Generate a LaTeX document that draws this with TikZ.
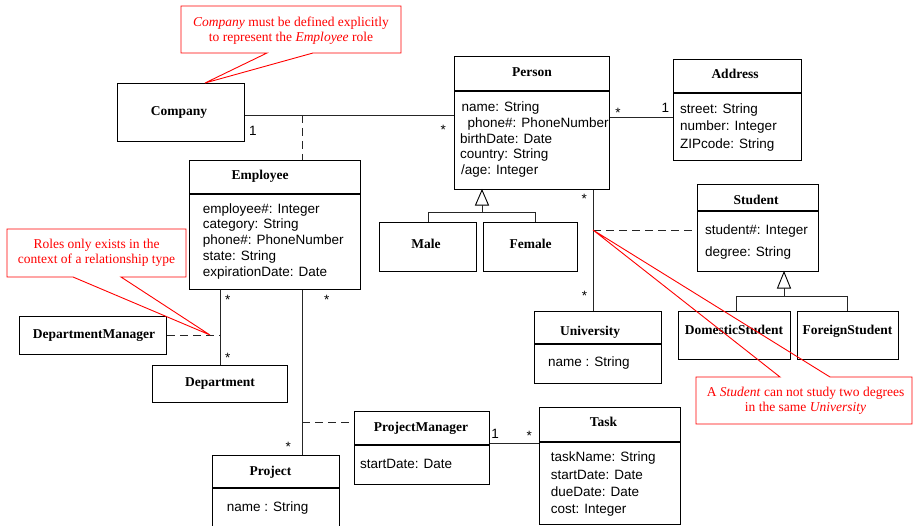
\documentclass[tikz,border=0pt]{standalone}
\usepackage{fontspec}
\usetikzlibrary{calc}
\setmainfont{Liberation Serif}
\newfontfamily\sansattr{Liberation Sans}
\begin{document}
\begin{tikzpicture}[x=1pt,y=-1pt,
  classbox/.style={draw=black, line width=1.1pt, inner sep=0pt, anchor=north west},
  sepline/.style={line width=1.1pt},
  title/.style={font=\fontsize{13.5}{16}\selectfont\bfseries, anchor=base, inner sep=0pt},
  attr/.style={font=\sansattr\fontsize{13.5}{16}\selectfont, anchor=base west, inner sep=0pt},
  mult/.style={font=\sansattr\fontsize{13.5}{16}\selectfont, anchor=base, inner sep=0pt},
  link/.style={line width=0.9pt, draw=black!85},
  dashlink/.style={link, dash pattern=on 8pt off 5pt},
  notetext/.style={text=red, font=\fontsize{13.5}{15.5}\selectfont, align=center, inner sep=0pt},
  noteline/.style={draw=red, line width=0.9pt, line join=miter},
  gentri/.style={draw=black, line width=0.9pt, fill=white},
]
\clip (0,0) rectangle (913,526);

% ---------- classes ----------
\node[classbox, minimum width=127, minimum height=58] (company) at (117,83) {};
\node[title] (company-t) at (179,116) {Company};

\node[classbox, minimum width=155, minimum height=133] (person) at (454,56) {};
\draw[sepline] (person.west |- 0,91) -- (person.east |- 0,91);
\node[title] (person-t) at (532,76.5) {Person};
\node[attr] (person-a1) at (461.5,111.7) {name: String};
\node[attr] (person-a2) at (467.5,127.3) {phone\#: PhoneNumber};
\node[attr] (person-a3) at (460,143.3) {birthDate: Date};
\node[attr] (person-a4) at (460,159) {country: String};
\node[attr] (person-a5) at (461,174.3) {/age: Integer};

\node[classbox, minimum width=128, minimum height=101] (address) at (673,59) {};
\draw[sepline] (address.west |- 0,93) -- (address.east |- 0,93);
\node[title] (address-t) at (735,79) {Address};
\node[attr] (address-a1) at (680,113.3) {street: String};
\node[attr] (address-a2) at (680,131) {number: Integer};
\node[attr] (address-a3) at (680,148.7) {ZIPcode: String};

\node[classbox, minimum width=121, minimum height=87] (student) at (697,184) {};
\draw[sepline] (student.west |- 0,211) -- (student.east |- 0,211);
\node[title] (student-t) at (756,204.3) {Student};
\node[attr] (student-a1) at (705,234.3) {student\#: Integer};
\node[attr] (student-a2) at (705,256.5) {degree: String};

\node[classbox, minimum width=171, minimum height=129] (employee) at (189,160) {};
\draw[sepline] (employee.west |- 0,194) -- (employee.east |- 0,194);
\node[title] (employee-t) at (260,180) {Employee};
\node[attr] (employee-a1) at (202.7,213.3) {employee\#: Integer};
\node[attr] (employee-a2) at (202.7,229) {category: String};
\node[attr] (employee-a3) at (202.7,245) {phone\#: PhoneNumber};
\node[attr] (employee-a4) at (202.7,260.7) {state: String};
\node[attr] (employee-a5) at (202.7,276.7) {expirationDate: Date};

\node[classbox, minimum width=97, minimum height=49] (male) at (379,222) {};
\node[title] (male-t) at (426,248.3) {Male};
\node[classbox, minimum width=94, minimum height=49] (female) at (483,222) {};
\node[title] (female-t) at (530.5,248.3) {Female};

\node[classbox, minimum width=127, minimum height=72] (university) at (534,311) {};
\draw[sepline] (university.west |- 0,344) -- (university.east |- 0,344);
\node[title] (university-t) at (590,335.7) {University};
\node[attr] (university-a1) at (548,366.7) {name : String};

\node[classbox, minimum width=112, minimum height=48] (domestic) at (678,311) {};
\node[title] (domestic-t) at (734,335) {DomesticStudent};
\node[classbox, minimum width=101, minimum height=48] (foreign) at (797,311) {};
\node[title] (foreign-t) at (847.5,335) {ForeignStudent};

\node[classbox, minimum width=147, minimum height=38] (depmanager) at (19,316) {};
\node[title] (depmanager-t) at (94,338.3) {DepartmentManager};
\node[classbox, minimum width=135, minimum height=37] (department) at (152,365) {};
\node[title] (department-t) at (220,386.7) {Department};

\node[classbox, minimum width=135, minimum height=73] (projmanager) at (354,411) {};
\draw[sepline] (projmanager.west |- 0,445) -- (projmanager.east |- 0,445);
\node[title] (projmanager-t) at (421,431.7) {ProjectManager};
\node[attr] (projmanager-a1) at (360,468.3) {startDate: Date};

\node[classbox, minimum width=127, minimum height=80] (project) at (212,455) {};
\draw[sepline] (project.west |- 0,488) -- (project.east |- 0,488);
\node[title] (project-t) at (270.5,475) {Project};
\node[attr] (project-a1) at (226.7,511.7) {name : String};

\node[classbox, minimum width=141, minimum height=117] (task) at (539,407) {};
\draw[sepline] (task.west |- 0,442) -- (task.east |- 0,442);
\node[title] (task-t) at (603.5,426.7) {Task};
\node[attr] (task-a1) at (550.7,461.7) {taskName: String};
\node[attr] (task-a2) at (550.7,479) {startDate: Date};
\node[attr] (task-a3) at (550.7,496) {dueDate: Date};
\node[attr] (task-a4) at (550.7,513.3) {cost: Integer};

% ---------- associations ----------
\draw[link] (company.east |- 0,115) -- (person.west |- 0,115);
\coordinate (assocCP) at (302,115);
\draw[dashlink] (assocCP) -- (employee.north -| assocCP);
\node[mult] (m-cp1) at (253,135.8) {1};
\node[mult] (m-cp2) at (443.3,134.7) {*};

\draw[link] (person.east |- 0,117) -- (address.west |- 0,117);
\node[mult] (m-pa1) at (618,118) {*};
\node[mult] (m-pa2) at (665.3,112.1) {1};

\draw[link] (person.south -| 593,0) -- (university.north -| 593,0);
\coordinate (assocPU) at (593,230);
\draw[dashlink] (assocPU) -- (student.west |- assocPU);
\node[mult] (m-pu1) at (584.3,203.7) {*};
\node[mult] (m-pu2) at (584.5,301) {*};

\draw[link] (employee.south -| department.north) -- (department.north);
\coordinate (assocED) at (department.north |- depmanager.east);
\draw[dashlink] (depmanager.east) -- (assocED);
\node[mult] (m-ed1) at (227.7,304.7) {*};
\node[mult] (m-ed2) at (227.7,363) {*};

\draw[link] (employee.south -| 302,0) -- (project.north -| 302,0);
\coordinate (assocEP) at (302,422);
\draw[dashlink] (assocEP) -- (projmanager.west |- assocEP);
\node[mult] (m-ep1) at (326.7,304.7) {*};
\node[mult] (m-ep2) at (288.3,451.3) {*};

\draw[link] (projmanager.east |- 0,443) -- (task.west |- 0,443);
\node[mult] (m-pt1) at (495,438.1) {1};
\node[mult] (m-pt2) at (529.3,440.7) {*};

% ---------- generalizations ----------
\coordinate (genP) at (person.south -| 482,0);
\draw[gentri] (genP) -- ++(6.5,15) -- ++(-13,0) -- cycle;
\draw[link] ($(genP)+(0,15)$) -- (482,212);
\draw[link] (male.north |- 0,212) -- (535,212);
\draw[link] (male.north |- 0,212) -- (male.north);
\draw[link] (535,212) -- (female.north -| 535,0);

\coordinate (genS) at (student.south -| 784,0);
\draw[gentri] (genS) -- ++(6.5,16) -- ++(-13,0) -- cycle;
\draw[link] ($(genS)+(0,16)$) -- (784,296);
\draw[link] (736,296) -- (847,296);
\draw[link] (736,296) -- (domestic.north -| 736,0);
\draw[link] (847,296) -- (foreign.north -| 847,0);

% ---------- notes ----------
\node[notetext] (note-company) at (291,30.6) {\textit{Company} must be defined explicitly\\to represent the \textit{Employee} role};
\draw[noteline] (181,6) -- (401,6) -- (401,53) -- (313,53) -- (company.north -| 205,0) -- (267,53) -- (181,53) -- cycle;

\coordinate (depnote) at (210,335);
\node[notetext] (note-roles) at (96.5,253) {Roles only exists in the\\context of a relationship type};
\draw[noteline] (7,229) -- (186,229) -- (186,277) -- (121,277) -- (depnote) -- (73,277) -- (7,277) -- cycle;

\node[notetext] (note-student) at (805.5,401) {A \textit{Student} can not study two degrees\\in the same \textit{University}};
\draw[noteline] (696,377) -- (780,377) -- (assocPU) -- (830,377) -- (912,377) -- (912,424) -- (696,424) -- cycle;
\end{tikzpicture}
\end{document}
